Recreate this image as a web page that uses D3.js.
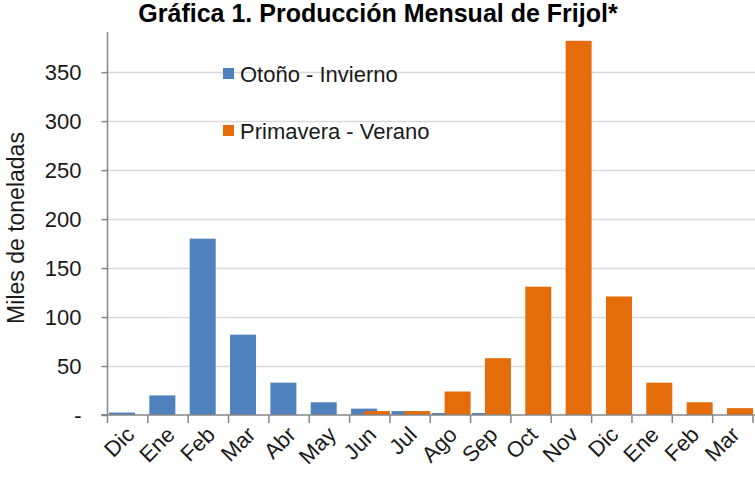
<!DOCTYPE html>
<html><head><meta charset="utf-8">
<script src="https://cdn.jsdelivr.net/npm/d3@7"></script>
<style>body{margin:0;background:#fff}svg{display:block;font-family:"Liberation Sans",Arial,sans-serif}</style>
</head><body><svg id="c" width="755" height="487"></svg>
<script>
const categories = ["Dic","Ene","Feb","Mar","Abr","May","Jun","Jul","Ago","Sep","Oct","Nov","Dic","Ene","Feb","Mar"];
const otonoInvierno = [2.5,20,180,82,33,13,6.5,4,2,2,0,0,0,0,0,0];
const primaveraVerano = [0,0,0,0,0,0,4,4,24,58,131,382,121,33,13,7];
const yTicks = [0,50,100,150,200,250,300,350];
const seriesNames = ["Otoño - Invierno","Primavera - Verano"];
const colors = ["#4F81BD","#E46C0A"];

(function(){
const svg = d3.select("#c");
const pLeft = 107.5, pRight = 753, pTop = 32, pBottom = 415;
const x = d3.scaleBand().domain(d3.range(categories.length)).range([pLeft, pRight]);
const y = d3.scaleLinear().domain([0, 391]).range([pBottom, pTop]);
const txt = "#1a1a1a";

// gridlines
svg.append("g").selectAll("line").data(yTicks.filter(d=>d>0)).join("line")
  .attr("x1", pLeft).attr("x2", 755).attr("y1", d=>Math.round(y(d))+0.5).attr("y2", d=>Math.round(y(d))+0.5)
  .attr("stroke", "#d9d9d9").attr("stroke-width", 1.5);

const bw = x.bandwidth();
const barW = 26;
const offs = [1.5, bw - barW];
[otonoInvierno, primaveraVerano].forEach((vals, si) => {
  svg.append("g").selectAll("rect").data(vals).join("rect")
    .attr("x", (d,i)=>x(i)+offs[si]).attr("width", barW)
    .attr("y", d=>y(d)).attr("height", d=>pBottom - y(d))
    .attr("fill", colors[si]);
});

// y axis
const yAxis = d3.axisLeft(y).tickValues(yTicks).tickSize(6).tickPadding(20)
  .tickFormat(d => d===0 ? "-" : d3.format("d")(d));
const gy = svg.append("g").attr("transform", `translate(${pLeft},0)`).call(yAxis);
gy.select(".domain").attr("stroke", "#868686").attr("stroke-width", 1.5).attr("d", `M-6,${pBottom}H0V${pTop}`);
gy.selectAll(".tick line").attr("stroke", "#868686").attr("stroke-width", 1.5);
gy.selectAll(".tick text").attr("font-size", 22).attr("fill", txt).attr("font-family", "Liberation Sans, Arial, sans-serif");

// x axis
const gx = svg.append("g").attr("transform", `translate(0,${pBottom})`);
gx.append("line").attr("x1", pLeft-6).attr("x2", 755).attr("stroke", "#868686").attr("stroke-width", 1.5);
gx.selectAll("line.t").data(d3.range(categories.length+1)).join("line").attr("class","t")
  .attr("x1", i=> i<categories.length ? x(i) : pRight).attr("x2", i=> i<categories.length ? x(i) : pRight)
  .attr("y1", 0).attr("y2", 8).attr("stroke", "#868686").attr("stroke-width", 1.5);
gx.selectAll("text").data(categories).join("text")
  .attr("transform", (d,i)=>`translate(${x(i)+bw/2-3},${10}) rotate(-45)`)
  .attr("text-anchor", "end").attr("dy", "0.71em")
  .attr("font-size", 22).attr("fill", txt).text(d=>d);

// y title
svg.append("text").attr("transform", "translate(24,228) rotate(-90)")
  .attr("text-anchor", "middle").attr("font-size", 23).attr("fill", txt).text("Miles de toneladas");

// title
svg.append("text").attr("x", 378).attr("y", 22).attr("text-anchor", "middle")
  .attr("font-size", 25).attr("font-weight", "bold").attr("fill", "#000").text("Gráfica 1. Producción Mensual de Frijol*");

// legend
const lg = svg.append("g");
seriesNames.forEach((n, i) => {
  const yy = 74 + i*57;
  lg.append("rect").attr("x", 223).attr("y", yy-6).attr("width", 11).attr("height", 11).attr("fill", colors[i]);
  lg.append("text").attr("x", 240).attr("y", yy).attr("dy", "0.35em").attr("font-size", 22)
    .attr("fill", txt).text(n);
});
})();
</script></body></html>
